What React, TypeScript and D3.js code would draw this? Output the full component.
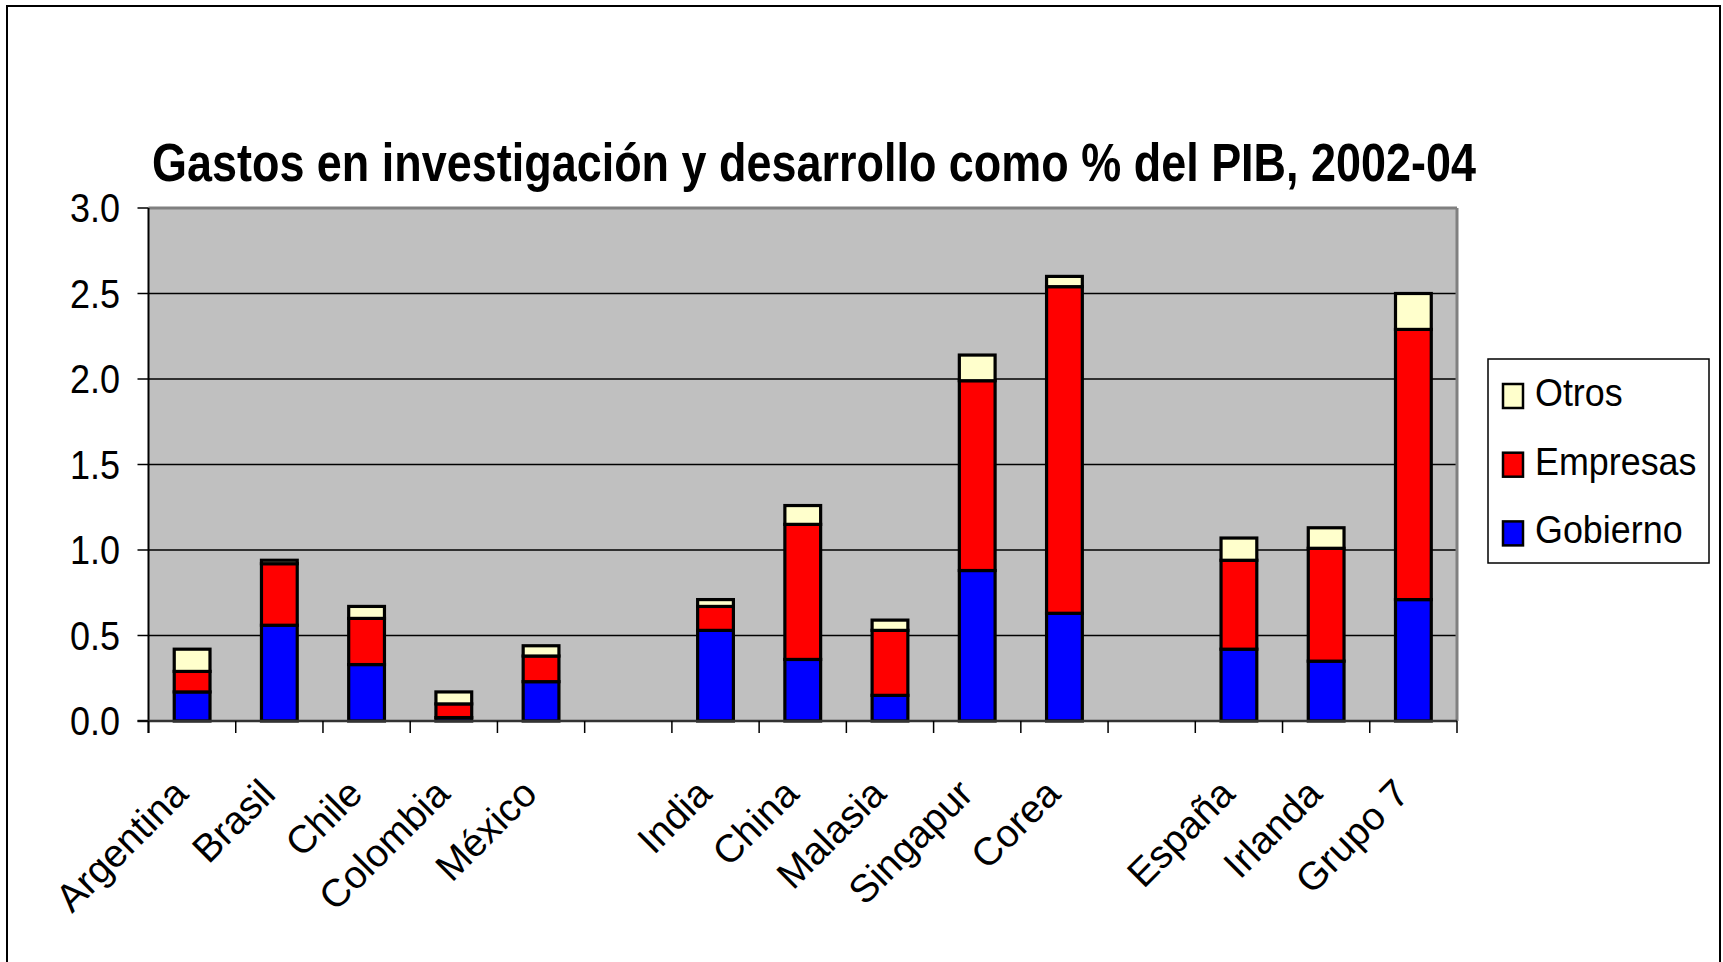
import React from "react";
import * as d3 from "d3";

const categories = ["Argentina", "Brasil", "Chile", "Colombia", "México", "", "India", "China", "Malasia", "Singapur", "Corea", "", "España", "Irlanda", "Grupo 7"];
const gobierno = [0.17, 0.56, 0.33, 0.02, 0.23, 0, 0.53, 0.36, 0.15, 0.88, 0.63, 0, 0.42, 0.35, 0.71];
const empresas = [0.12, 0.36, 0.27, 0.08, 0.15, 0, 0.14, 0.79, 0.38, 1.11, 1.91, 0, 0.52, 0.66, 1.58];
const otros = [0.13, 0.02, 0.07, 0.07, 0.06, 0, 0.04, 0.11, 0.06, 0.15, 0.06, 0, 0.13, 0.12, 0.21];
const seriesNames = ["Gobierno", "Empresas", "Otros"];
const seriesColors = ["#0000FF", "#FF0000", "#FFFFCC"];
const yTicks = [0, 0.5, 1, 1.5, 2, 2.5, 3];
const title = "Gastos en investigación y desarrollo como % del PIB, 2002-04";

const W = 1723, H = 962;
const PL = 148.5, PR = 1457, PT = 208, PB = 721;
const FONT = "'Liberation Sans', Arial, sans-serif";

export default function App() {
  const idx = categories.map((_, i) => i);
  const x = d3.scaleBand<number>().domain(idx).range([PL, PR]).padding(0);
  const y = d3.scaleLinear().domain([0, 3]).range([PB, PT]);
  const rows = idx.map((i) => ({ i, Gobierno: gobierno[i], Empresas: empresas[i], Otros: otros[i] }));
  const stack = d3.stack<any>().keys(seriesNames)(rows);
  const bw = x.bandwidth() * 0.41;
  const boundaries = d3.range(categories.length + 1).map((k) => PL + k * x.bandwidth());

  const legendItems = [
    { name: "Otros", color: seriesColors[2] },
    { name: "Empresas", color: seriesColors[1] },
    { name: "Gobierno", color: seriesColors[0] },
  ];

  return (
    <svg width={W} height={H} style={{ position: "absolute", left: 0, top: 0, background: "#fff" }} fontFamily={FONT}>
      <rect x={0} y={0} width={W} height={H} fill="#fff" />
      <rect x={7} y={6} width={1713} height={1000} fill="#fff" stroke="#000" strokeWidth={2} />
      {/* title */}
      <text x={152} y={181} fontSize={53} fontWeight="bold" textLength={1324} lengthAdjust="spacingAndGlyphs" fill="#000">
        {title}
      </text>
      {/* plot area */}
      <rect x={PL} y={PT} width={PR - PL} height={PB - PT} fill="#C0C0C0" />
      {yTicks.filter((t) => t > 0 && t < 3).map((t) => (
        <line key={t} x1={PL} x2={PR} y1={y(t)} y2={y(t)} stroke="#000" strokeWidth={1.5} />
      ))}
      <line x1={PL} x2={PR} y1={PT} y2={PT} stroke="#808080" strokeWidth={3} />
      <line x1={PR} x2={PR} y1={PT} y2={PB} stroke="#808080" strokeWidth={3} />
      {/* bars */}
      {stack.map((s, si) => (
        <g key={s.key}>
          {s.map((d, i) => {
            const v = d[1] - d[0];
            if (!categories[i] || v <= 0) return null;
            return (
              <rect
                key={i}
                x={(x(i) as number) + x.bandwidth() / 2 - bw / 2}
                y={y(d[1])}
                width={bw}
                height={y(d[0]) - y(d[1])}
                fill={seriesColors[si]}
                stroke="#000"
                strokeWidth={3.2}
              />
            );
          })}
        </g>
      ))}
      {/* axes */}
      <line x1={PL} x2={PL} y1={PT} y2={PB + 12} stroke="#000" strokeWidth={2} />
      <line x1={PL - 11} x2={PR} y1={PB} y2={PB} stroke="#333" strokeWidth={2.5} />
      {yTicks.map((t) => (
        <g key={t}>
          <line x1={PL - 11} x2={PL} y1={y(t)} y2={y(t)} stroke="#000" strokeWidth={1.5} />
          <text
            transform={`translate(120,${y(t) + 14}) scale(0.9,1)`}
            textAnchor="end"
            fontSize={40}
            fill="#000"
          >
            {t.toFixed(1)}
          </text>
        </g>
      ))}
      {boundaries.map((b, k) => (
        <line key={k} x1={b} x2={b} y1={PB} y2={PB + 12} stroke="#000" strokeWidth={1.5} />
      ))}
      {categories.map((c, i) =>
        c ? (
          <text
            key={i}
            transform={`translate(${(x(i) as number) + x.bandwidth() / 2 - 2},796) rotate(-45)`}
            textAnchor="end"
            fontSize={39}
            fill="#000"
          >
            {c}
          </text>
        ) : null
      )}
      {/* legend */}
      <rect x={1488} y={359} width={221} height={204} fill="#fff" stroke="#000" strokeWidth={1.5} />
      {legendItems.map((it, k) => {
        const cy = 396 + k * 68.7;
        return (
          <g key={it.name}>
            <rect x={1503} y={cy - 12} width={20} height={24} fill={it.color} stroke="#000" strokeWidth={2.5} />
            <text transform={`translate(1535,${cy + 10}) scale(0.92,1)`} fontSize={39} fill="#000">
              {it.name}
            </text>
          </g>
        );
      })}
    </svg>
  );
}
